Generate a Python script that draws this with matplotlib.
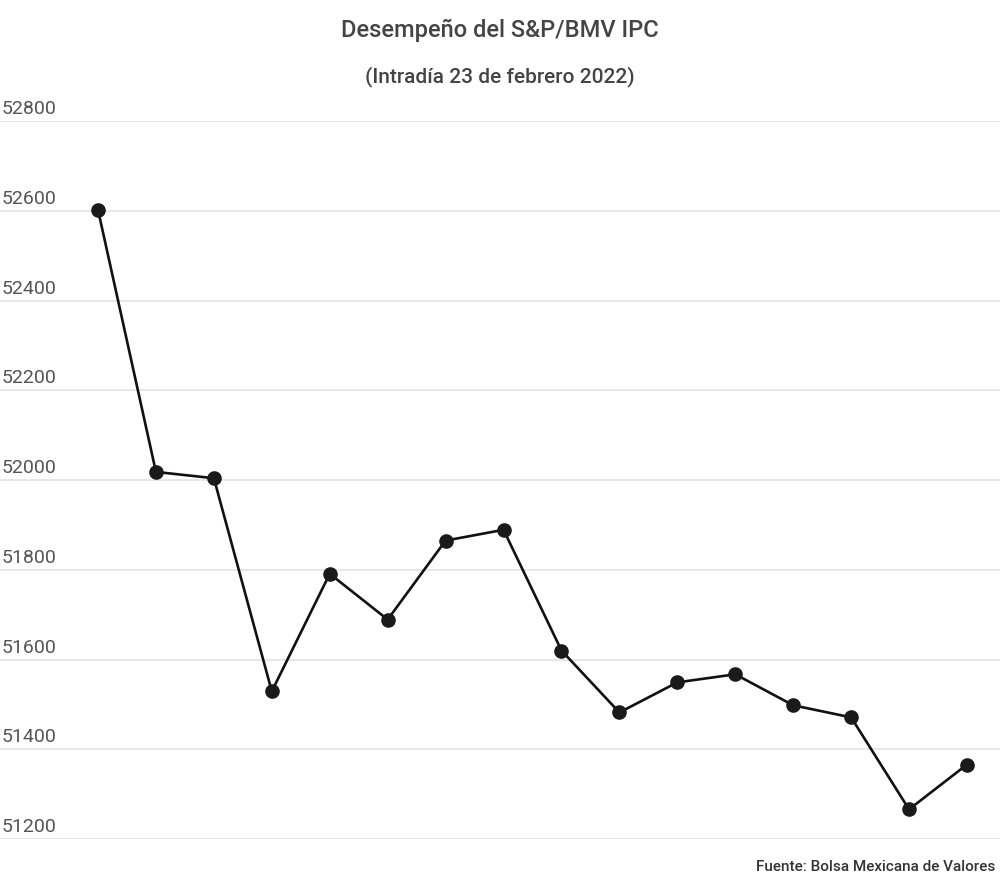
import numpy as np
import matplotlib.pyplot as plt
import matplotlib.transforms as mtransforms

plt.rcParams['font.family'] = ['Roboto', 'DejaVu Sans']

valores = [52602, 52018, 52004, 51529, 51791, 51689, 51865, 51889,
           51620, 51482, 51549, 51567, 51498, 51471, 51266, 51366]
yticks = [51200, 51400, 51600, 51800, 52000, 52200, 52400, 52600, 52800]
titulo = 'Desempeño del S&P/BMV IPC'
subtitulo = '(Intradía 23 de febrero 2022)'
fuente = 'Fuente: Bolsa Mexicana de Valores'

fig = plt.figure(figsize=(10, 8.89), dpi=100)
ax = fig.add_axes([0, 1 - 839/889, 1, (839 - 121)/889])

x = np.arange(len(valores))
ax.plot(x, valores, color='#111111', lw=1.9, marker='o', ms=9.5,
        markerfacecolor='#1a1a1a', markeredgecolor='#1a1a1a', zorder=3)

ax.set_ylim(51200, 52800)
ax.set_xlim(-98/57.93, 15 + 33/57.93)
for s in ax.spines.values():
    s.set_visible(False)
ax.set_xticks([])
ax.set_yticks([])
for t in yticks:
    ax.axhline(t, color='#e3e3e3', lw=1.2, zorder=1)

trans = mtransforms.blended_transform_factory(ax.transAxes, ax.transData)
off = mtransforms.offset_copy(trans, fig=fig, x=0, y=2, units='points')
for t in yticks:
    ax.text(0.002, t, str(t), transform=off, ha='left', va='bottom',
            fontsize=14, color='#555555')

fig.text(0.5, 1 - 30/889, titulo, ha='center', va='center', fontsize=17,
         fontweight='medium', color='#444444')
fig.text(0.5, 1 - 77/889, subtitulo, ha='center', va='center', fontsize=15,
         fontweight='medium', color='#444444')
fig.text(0.995, 1 - 867/889, fuente, ha='right', va='center', fontsize=11,
         fontweight='medium', color='#333333')

fig.savefig('out.png', dpi=100, facecolor='white')
